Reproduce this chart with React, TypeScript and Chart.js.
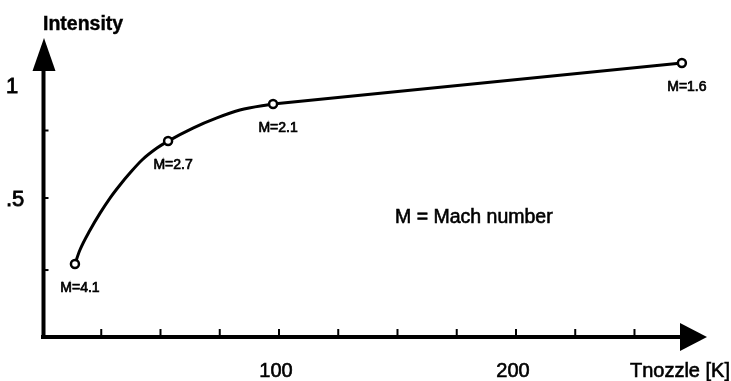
import React, { useEffect, useRef } from "react";
import { Chart, registerables } from "chart.js";

Chart.register(...registerables);

// Measured points (Mach number labels)
const machLabels = ["M=4.1", "M=2.7", "M=2.1", "M=1.6"];
const nozzleTemps = [13.9, 53.2, 97.5, 270];
const intensities = [0.207, 0.753, 0.918, 1.1];

// Hand-drawn curved part (M=4.1 .. M=2.1)
const curveTemps = [13.9, 16.0, 20.3, 24.5, 28.7, 32.9, 37.1, 42.2, 48.5, 53.2, 63.7, 73.8, 83.5, 97.5];
const curveIntensities = [0.207, 0.269, 0.358, 0.433, 0.5, 0.558, 0.611, 0.669, 0.722, 0.753, 0.811, 0.856, 0.891, 0.918];
// Straight part (M=2.1 .. M=1.6)
const straightTemps = [97.5, 270];
const straightIntensities = [0.918, 1.1];

// Axis ticks and labels
const xTickValues = [25, 50, 75, 100, 125, 150, 175, 200, 225, 250];
const xLabelValues = [100, 200];
const xLabelTexts = ["100", "200"];
const yTickValues = [0.18, 0.5, 0.8];
const yLabelValues = [1, 0.5];
const yLabelTexts = ["1", ".5"];

const xTitle = "Tnozzle [K]";
const yTitle = "Intensity";
const noteText = "M = Mach number";

const FONT = "'Liberation Sans', Arial, Helvetica, sans-serif";

function heavyText(ctx: any, text: string, x: number, y: number, w = 0.6) {
  ctx.fillText(text, x, y);
  ctx.lineWidth = w;
  ctx.strokeText(text, x, y);
}

const axesPlugin = {
  id: "handAxes",
  beforeDatasetsDraw(chart: any) {
    const { ctx, chartArea, scales } = chart;
    const { left, top, right, bottom } = chartArea;
    const xs = scales.x;
    const ys = scales.y;
    ctx.save();
    ctx.strokeStyle = "#000";
    ctx.fillStyle = "#000";
    // axis lines
    const axY = bottom + 1;
    const axX = left + 1.5;
    ctx.lineWidth = 4;
    ctx.lineCap = "butt";
    ctx.beginPath();
    ctx.moveTo(left - 1, axY);
    ctx.lineTo(right - 26, axY);
    ctx.stroke();
    ctx.beginPath();
    ctx.moveTo(axX, axY + 2);
    ctx.lineTo(axX, top + 31);
    ctx.stroke();
    // arrows
    ctx.beginPath();
    ctx.moveTo(right, axY);
    ctx.lineTo(right - 27, axY - 14);
    ctx.lineTo(right - 27, axY + 14);
    ctx.closePath();
    ctx.fill();
    ctx.beginPath();
    ctx.moveTo(axX + 0.5, top);
    ctx.lineTo(axX + 0.5 - 11.5, top + 33);
    ctx.lineTo(axX + 0.5 + 11.5, top + 33);
    ctx.closePath();
    ctx.fill();
    // x ticks
    ctx.lineWidth = 2;
    xTickValues.forEach((v) => {
      const px = xs.getPixelForValue(v);
      ctx.beginPath();
      ctx.moveTo(px, axY);
      ctx.lineTo(px, axY - 8);
      ctx.stroke();
    });
    // y ticks
    yTickValues.forEach((v) => {
      const py = ys.getPixelForValue(v);
      ctx.beginPath();
      ctx.moveTo(axX, py);
      ctx.lineTo(axX + 5, py);
      ctx.stroke();
    });
    // tick labels
    ctx.font = `20px ${FONT}`;
    ctx.textAlign = "center";
    ctx.textBaseline = "alphabetic";
    xLabelValues.forEach((v, i) => {
      heavyText(ctx, xLabelTexts[i], xs.getPixelForValue(v) - 3, 377);
    });
    ctx.font = `22px ${FONT}`;
    ctx.textAlign = "left";
    yLabelValues.forEach((v, i) => {
      heavyText(ctx, yLabelTexts[i], 6, ys.getPixelForValue(v) + 8, 0.8);
    });
    // titles
    ctx.font = `20px ${FONT}`;
    ctx.textAlign = "right";
    heavyText(ctx, xTitle, 730, 377);
    ctx.font = `bold 19.5px ${FONT}`;
    ctx.textAlign = "left";
    heavyText(ctx, yTitle, 43, 30, 0.4);
    ctx.font = `19.5px ${FONT}`;
    heavyText(ctx, noteText, 395, 223);
    ctx.restore();
  },
  afterDatasetsDraw(chart: any) {
    const { ctx } = chart;
    const meta = chart.getDatasetMeta(0);
    ctx.save();
    ctx.fillStyle = "#000";
    ctx.strokeStyle = "#000";
    ctx.font = `14px ${FONT}`;
    ctx.textAlign = "center";
    ctx.textBaseline = "middle";
    meta.data.forEach((pt: any, i: number) => {
      heavyText(ctx, machLabels[i], pt.x + 5, pt.y + 24, 0.7);
    });
    ctx.restore();
  },
};

export default function App() {
  const canvasRef = useRef<HTMLCanvasElement | null>(null);

  useEffect(() => {
    const canvas = canvasRef.current;
    if (!canvas) return;
    const chart = new Chart(canvas, {
      type: "scatter",
      data: {
        datasets: [
          {
            label: "Mach points",
            data: nozzleTemps.map((x, i) => ({ x, y: intensities[i] })),
            showLine: false,
            pointRadius: 4,
            pointBorderWidth: 2.5,
            pointBackgroundColor: "#fff",
            pointBorderColor: "#000",
            clip: false as any,
          },
          {
            label: "Curve",
            data: curveTemps.map((x, i) => ({ x, y: curveIntensities[i] })),
            showLine: true,
            borderColor: "#000",
            borderWidth: 3,
            pointRadius: 0,
            cubicInterpolationMode: "monotone",
            clip: false as any,
          },
          {
            label: "Straight",
            data: straightTemps.map((x, i) => ({ x, y: straightIntensities[i] })),
            showLine: true,
            borderColor: "#000",
            borderWidth: 3,
            pointRadius: 0,
            tension: 0,
            clip: false as any,
          },
        ],
      },
      options: {
        responsive: false,
        animation: false,
        layout: { padding: { left: 42, right: 24, top: 38, bottom: 45 } },
        plugins: { legend: { display: false }, tooltip: { enabled: false } },
        scales: {
          x: { type: "linear", min: 0, max: 280.6, display: false },
          y: { type: "linear", min: -0.113, max: 1.211, display: false },
        },
      },
      plugins: [axesPlugin],
    });
    return () => chart.destroy();
  }, []);

  return (
    <div style={{ position: "absolute", left: 0, top: 0, width: 731, height: 381, background: "#fff" }}>
      <canvas ref={canvasRef} width={731} height={381} style={{ display: "block" }} />
    </div>
  );
}
